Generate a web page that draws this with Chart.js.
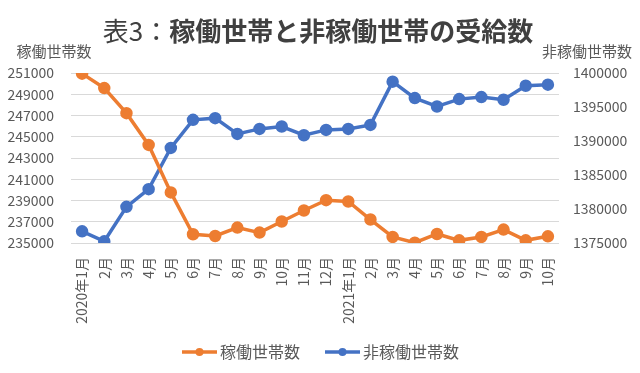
<!DOCTYPE html>
<html>
<head>
<meta charset="utf-8">
<script src="https://cdn.jsdelivr.net/npm/chart.js@4/dist/chart.umd.min.js"></script>
<style>
  html, body { margin: 0; padding: 0; background: #fff; }
</style>
</head>
<body>
<canvas id="chart" width="640" height="373"></canvas>
<script>
const months = ['2020年1月', '2月', '3月', '4月', '5月', '6月', '7月', '8月', '9月', '10月', '11月', '12月',
  '2021年1月', '2月', '3月', '4月', '5月', '6月', '7月', '8月', '9月', '10月'];

// 稼働世帯数 (left axis)
const working = [250940, 249580, 247220, 244230, 239760, 235820, 235660, 236450, 235980, 237020, 238060, 239030,
  238910, 237210, 235570, 235030, 235850, 235250, 235570, 236260, 235250, 235630];

// 非稼働世帯数 (right axis)
const nonWorking = [1376720, 1375250, 1380320, 1382920, 1388980, 1393110, 1393360, 1391040, 1391780, 1392130, 1390850, 1391630,
  1391780, 1392370, 1398720, 1396310, 1395080, 1396160, 1396460, 1396060, 1398130, 1398280];

const leftRange = [235000, 251000, 2000];
const rightRange = [1375000, 1400000, 5000];

const titlePrefix = '表3：';
const titleMain = '稼働世帯と非稼働世帯の受給数';
const leftAxisTitle = '稼働世帯数';
const rightAxisTitle = '非稼働世帯数';

const FONT = '"Noto Sans CJK JP", "Noto Sans", sans-serif';
const TEXT = '#595959';
const ORANGE = '#ED7D31';
const BLUE = '#4472C4';

// title + axis titles + legend drawn by hand (mixed weights, line+dot legend)
const decorations = {
  id: 'decorations',
  afterDraw(chart) {
    const ctx = chart.ctx;
    ctx.save();
    ctx.textBaseline = 'middle';

    // title
    const f1 = '26px ' + FONT;
    const f2 = 'bold 26px ' + FONT;
    ctx.font = f1;
    const w1 = ctx.measureText(titlePrefix).width;
    ctx.font = f2;
    const w2 = ctx.measureText(titleMain).width;
    let x = 318 - (w1 + w2) / 2;
    ctx.fillStyle = '#404040';
    ctx.textAlign = 'left';
    ctx.font = f1;
    ctx.fillText(titlePrefix, x, 31);
    ctx.font = f2;
    ctx.fillText(titleMain, x + w1, 31);

    // axis titles
    ctx.font = '15px ' + FONT;
    ctx.fillStyle = TEXT;
    ctx.textAlign = 'center';
    ctx.fillText(leftAxisTitle, 54, 51);
    ctx.fillText(rightAxisTitle, 587, 51);

    // legend
    ctx.font = '16px ' + FONT;
    ctx.textAlign = 'left';
    const legendY = 352;
    const spots = [182, 325];
    chart.data.datasets.forEach((ds, i) => {
      const lx = spots[i];
      ctx.strokeStyle = ds.borderColor;
      ctx.lineWidth = 3.5;
      ctx.beginPath();
      ctx.moveTo(lx, legendY);
      ctx.lineTo(lx + 35, legendY);
      ctx.stroke();
      ctx.fillStyle = ds.borderColor;
      ctx.beginPath();
      ctx.arc(lx + 17.5, legendY, 4, 0, Math.PI * 2);
      ctx.fill();
      ctx.fillStyle = TEXT;
      ctx.fillText(ds.label, lx + 38, legendY);
    });
    ctx.restore();
  }
};

new Chart(document.getElementById('chart'), {
  type: 'line',
  data: {
    labels: months,
    datasets: [
      {
        label: leftAxisTitle,
        data: working,
        yAxisID: 'y',
        borderColor: ORANGE,
        backgroundColor: ORANGE,
        borderWidth: 3.5,
        pointRadius: 4.5,
        pointBackgroundColor: ORANGE,
        pointBorderColor: ORANGE,
        tension: 0,
        fill: false
      },
      {
        label: rightAxisTitle,
        data: nonWorking,
        yAxisID: 'y2',
        borderColor: BLUE,
        backgroundColor: BLUE,
        borderWidth: 3.5,
        pointRadius: 4.5,
        pointBackgroundColor: BLUE,
        pointBorderColor: BLUE,
        tension: 0,
        fill: false
      }
    ]
  },
  options: {
    responsive: false,
    animation: false,
    devicePixelRatio: 1,
    layout: { padding: { top: 73, bottom: 40, left: 0, right: 0 } },
    plugins: {
      legend: { display: false },
      title: { display: false },
      tooltip: { enabled: false }
    },
    scales: {
      x: {
        offset: true,
        grid: { display: false },
        border: { display: false },
        ticks: {
          autoSkip: false,
          maxRotation: 90,
          minRotation: 90,
          padding: 6,
          color: TEXT,
          font: { family: FONT, size: 14 }
        },
        afterFit(s) { s.height = 90; }
      },
      y: {
        position: 'left',
        min: leftRange[0],
        max: leftRange[1],
        grid: { color: '#D9D9D9', lineWidth: 1, drawTicks: false },
        border: { display: false },
        ticks: {
          stepSize: leftRange[2],
          padding: 17,
          color: TEXT,
          font: { family: FONT, size: 14 },
          callback: v => String(v)
        },
        afterFit(s) { s.width = 71; }
      },
      y2: {
        position: 'right',
        min: rightRange[0],
        max: rightRange[1],
        grid: { display: false, drawTicks: false },
        border: { display: false },
        ticks: {
          stepSize: rightRange[2],
          padding: 14,
          color: TEXT,
          font: { family: FONT, size: 14 },
          callback: v => String(v)
        },
        afterFit(s) { s.width = 81; }
      }
    }
  },
  plugins: [decorations]
});
</script>
</body>
</html>
